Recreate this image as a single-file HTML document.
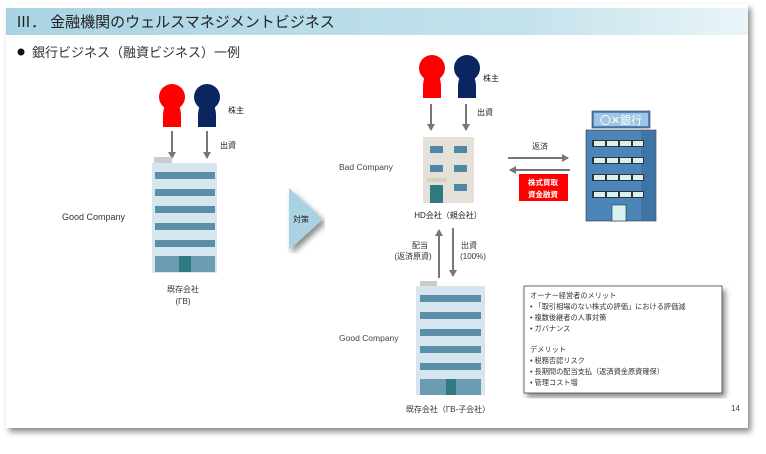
<!DOCTYPE html>
<html><head><meta charset="utf-8"><style>
body{margin:0;width:766px;height:449px;background:#fff;overflow:hidden;font-family:"Liberation Sans","Noto Sans CJK JP",sans-serif}
svg text{font-family:"Liberation Sans","Noto Sans CJK JP",sans-serif}
</style></head><body>
<svg width="766" height="449" viewBox="0 0 766 449" xmlns="http://www.w3.org/2000/svg">
<defs>
<linearGradient id="tg" x1="0" x2="1"><stop offset="0" stop-color="#a9d3e3"/><stop offset="0.7" stop-color="#c4e2ec"/><stop offset="1" stop-color="#eaf5f8"/></linearGradient>
<filter id="sh" x="-5%" y="-5%" width="110%" height="110%"><feDropShadow dx="3" dy="4" stdDeviation="3" flood-color="#000" flood-opacity="0.45"/></filter>
<marker id="ah" markerWidth="8" markerHeight="8" refX="6" refY="4" orient="auto" markerUnits="userSpaceOnUse"><path d="M0,0 L7,4 L0,8 z" fill="#777"/></marker>
<g id="person"><circle cx="0" cy="0" r="13" /><path d="M-7,8 Q-9,14 -9,18 L-9,30 L9,30 L9,18 Q9,14 7,8 z"/></g>
</defs>
<rect x="6" y="4" width="742" height="424" fill="#fff" filter="url(#sh)"/>
<rect x="6" y="8" width="742" height="27" fill="url(#tg)"/>
<text x="16" y="27" font-size="15" fill="#222">Ⅲ． 金融機関のウェルスマネジメントビジネス</text>
<circle cx="21" cy="52" r="3.5" fill="#111"/>
<text x="32" y="57" font-size="13" fill="#333">銀行ビジネス（融資ビジネス）一例</text>

<!-- left persons -->
<g fill="#f00" transform="translate(172,97)"><use href="#person"/></g>
<g fill="#0a2560" transform="translate(207,97)"><use href="#person"/></g>
<text x="228" y="113" font-size="8" fill="#222">株主</text>
<text x="220" y="148" font-size="8" fill="#222">出資</text>
<g stroke="#777" stroke-width="2"><line x1="172" y1="131" x2="172" y2="158" marker-end="url(#ah)"/><line x1="207" y1="131" x2="207" y2="158" marker-end="url(#ah)"/></g>
<!-- left building -->
<rect x="154" y="157" width="18" height="6" fill="#ccc"/>
<rect x="152" y="163" width="65" height="110" fill="#d7e6ee"/>
<g fill="#5b8fa8">
<rect x="155" y="172" width="60" height="7"/><rect x="155" y="189" width="60" height="7"/><rect x="155" y="206" width="60" height="7"/><rect x="155" y="223" width="60" height="7"/><rect x="155" y="240" width="60" height="7"/>
<rect x="155" y="256" width="60" height="16" fill="#6b9cb2"/></g>
<rect x="179" y="256" width="12" height="16" fill="#2e7a7e"/>
<text x="62" y="220" font-size="9" fill="#333">Good Company</text>
<text x="183" y="292" font-size="8" fill="#333" text-anchor="middle">既存会社</text>
<text x="183" y="304" font-size="8" fill="#333" text-anchor="middle">(ГB)</text>
<!-- triangle -->
<path d="M289,188 L323,219 L289,250 z" fill="#a9d3e3" filter="url(#sh)"/>
<text x="293" y="222" font-size="8" fill="#222">対策</text>

<!-- right persons -->
<g fill="#f00" transform="translate(432,68)"><use href="#person"/></g>
<g fill="#0a2560" transform="translate(467,68)"><use href="#person"/></g>
<text x="483" y="81" font-size="8" fill="#222">株主</text>
<text x="477" y="115" font-size="8" fill="#222">出資</text>
<g stroke="#777" stroke-width="2"><line x1="431" y1="104" x2="431" y2="130" marker-end="url(#ah)"/><line x1="466" y1="104" x2="466" y2="130" marker-end="url(#ah)"/></g>
<!-- HD building -->
<rect x="423" y="137" width="51" height="66" fill="#e6e1d8"/>
<g fill="#4f87a7"><rect x="430" y="146" width="13" height="7"/><rect x="454" y="146" width="13" height="7"/><rect x="430" y="165" width="13" height="7"/><rect x="454" y="165" width="13" height="7"/><rect x="454" y="184" width="13" height="7"/></g>
<rect x="427" y="178" width="20" height="4" fill="#d6cfc4"/>
<rect x="430" y="185" width="13" height="18" fill="#2e7a7e"/>
<text x="339" y="170" font-size="8.5" fill="#444">Bad Company</text>
<text x="448" y="218" font-size="8" fill="#222" text-anchor="middle">HD会社（親会社）</text>
<!-- vertical arrows -->
<g stroke="#777" stroke-width="2"><line x1="439" y1="278" x2="439" y2="230" marker-end="url(#ah)"/><line x1="453" y1="228" x2="453" y2="276" marker-end="url(#ah)"/></g>
<text x="420" y="248" font-size="8" fill="#333" text-anchor="middle">配当</text>
<text x="413" y="259" font-size="8" fill="#333" text-anchor="middle">(返済原資)</text>
<text x="469" y="248" font-size="8" fill="#333" text-anchor="middle">出資</text>
<text x="473" y="259" font-size="8" fill="#333" text-anchor="middle">(100%)</text>
<!-- horizontal arrows -->
<g stroke="#777" stroke-width="2"><line x1="508" y1="158" x2="568" y2="158" marker-end="url(#ah)"/><line x1="570" y1="170" x2="510" y2="170" marker-end="url(#ah)"/></g>
<text x="540" y="149" font-size="8" fill="#333" text-anchor="middle">返済</text>
<rect x="519" y="174" width="49" height="27" fill="#f00"/>
<text x="543" y="185" font-size="7.5" fill="#fff" text-anchor="middle" font-weight="bold">株式買取</text>
<text x="543" y="197" font-size="7.5" fill="#fff" text-anchor="middle" font-weight="bold">資金融資</text>
<!-- bank -->
<rect x="592" y="111" width="58" height="17" fill="#4f87b8" stroke="#335" stroke-width="0.6"/>
<rect x="594" y="113" width="54" height="13" fill="#9ec6e3"/>
<text x="621" y="124" font-size="11" fill="#fff" text-anchor="middle">〇✕銀行</text>
<rect x="586" y="130" width="70" height="91" fill="#4c86b8" stroke="#333" stroke-width="0.6"/>
<rect x="641" y="131" width="14" height="89" fill="#3e75a5"/>
<g fill="#333"><rect x="592" y="140" width="52" height="7"/><rect x="592" y="157" width="52" height="7"/><rect x="592" y="174" width="52" height="7"/><rect x="592" y="191" width="52" height="7"/></g>
<g fill="#d8f0f0"><rect x="594" y="141" width="11" height="5"/><rect x="607" y="141" width="11" height="5"/><rect x="620" y="141" width="11" height="5"/><rect x="633" y="141" width="10" height="5"/>
<rect x="594" y="158" width="11" height="5"/><rect x="607" y="158" width="11" height="5"/><rect x="620" y="158" width="11" height="5"/><rect x="633" y="158" width="10" height="5"/>
<rect x="594" y="175" width="11" height="5"/><rect x="607" y="175" width="11" height="5"/><rect x="620" y="175" width="11" height="5"/><rect x="633" y="175" width="10" height="5"/>
<rect x="594" y="192" width="11" height="5"/><rect x="607" y="192" width="11" height="5"/><rect x="620" y="192" width="11" height="5"/><rect x="633" y="192" width="10" height="5"/></g>
<rect x="612" y="205" width="14" height="16" fill="#d8f0f0" stroke="#333" stroke-width="0.6"/>
<!-- bottom building -->
<rect x="420" y="281" width="17" height="5" fill="#ccc"/>
<rect x="416" y="286" width="69" height="109" fill="#d7e6ee"/>
<g fill="#5b8fa8">
<rect x="420" y="295" width="61" height="7"/><rect x="420" y="312" width="61" height="7"/><rect x="420" y="329" width="61" height="7"/><rect x="420" y="346" width="61" height="7"/><rect x="420" y="363" width="61" height="7"/>
<rect x="420" y="379" width="61" height="16" fill="#6b9cb2"/></g>
<rect x="446" y="379" width="10" height="16" fill="#2e7a7e"/>
<text x="339" y="341" font-size="8.5" fill="#444">Good Company</text>
<text x="448" y="412" font-size="8" fill="#333" text-anchor="middle">既存会社（ГB-子会社）</text>
<!-- text box -->
<rect x="524" y="286" width="198" height="107" fill="#fff" stroke="#444" stroke-width="0.8" filter="url(#sh)"/>
<g font-size="7.2" fill="#333">
<text x="530" y="298">オーナー経営者のメリット</text>
<text x="530" y="309">•  「取引相場のない株式の評価」における評価減</text>
<text x="530" y="320">•  複数後継者の人事対策</text>
<text x="530" y="331">•  ガバナンス</text>
<text x="530" y="352">デメリット</text>
<text x="530" y="363">•  税務否認リスク</text>
<text x="530" y="374">•  長期間の配当支払（返済資金原資確保）</text>
<text x="530" y="385">•  管理コスト増</text>
</g>
<text x="731" y="411" font-size="8" fill="#444">14</text>
</svg>
</body></html>
